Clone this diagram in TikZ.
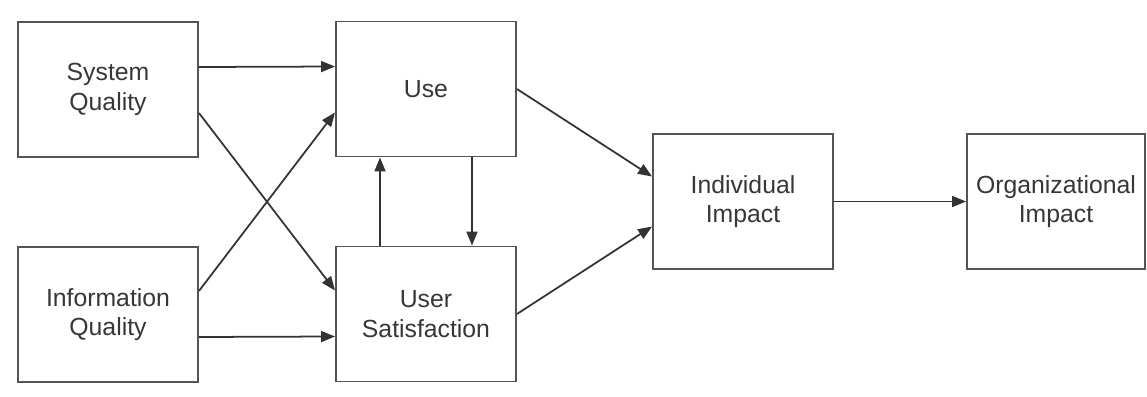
\documentclass[tikz,border=0pt]{standalone}
\usepackage{tikz}
\usepackage{fontspec}
\setmainfont{Liberation Sans}
\usetikzlibrary{arrows.meta,positioning,calc}
\definecolor{boxgray}{RGB}{85,85,85}
\definecolor{textgray}{RGB}{55,55,55}

\begin{document}
\begin{tikzpicture}[x=0.02cm, y=-0.02cm,
    block/.style={draw=boxgray, line width=1.1pt, fill=white, text=textgray,
        minimum width=3.6cm, minimum height=2.7cm, align=center,
        font=\fontsize{14.1}{16.8}\selectfont},
    link/.style={draw=black!80, line width=1pt,
        -{Triangle[length=0.28cm, width=0.22cm]}}]
    \useasboundingbox (0,0) rectangle (1147,396);

    % Quality dimensions
    \node[block] (sysq) at (108,89.5) {System\\Quality};
    \node[block] (infq) at (108,314.5) {Information\\Quality};

    % Use and satisfaction
    \node[block] (use) at (426,89) {Use};
    \node[block] (usat) at (426,314) {User\\Satisfaction};

    % Impacts
    \node[block] (indi) at (743,201.5) {Individual\\Impact};
    \node[block, minimum width=3.56cm] (orgi) at (1056,201.5) {Organizational\\Impact};

    % Connections
    \draw[link] ([yshift=0.45cm]sysq.east) -- ([yshift=0.45cm]use.west);
    \draw[link] ([yshift=-0.47cm]sysq.east) -- ([yshift=0.47cm]usat.west);
    \draw[link] ([yshift=0.47cm]infq.east) -- ([yshift=-0.47cm]use.west);
    \draw[link] ([yshift=-0.45cm]infq.east) -- ([yshift=-0.45cm]usat.west);
    \draw[link] ([xshift=-0.92cm]usat.north) -- ([xshift=-0.92cm]use.south);
    \draw[link] ([xshift=0.92cm]use.south) -- ([xshift=0.92cm]usat.north);
    \draw[link] (use.east) -- ([yshift=0.5cm]indi.west);
    \draw[link] (usat.east) -- ([yshift=-0.5cm]indi.west);
    \draw[link] (indi.east) -- (orgi.west);
\end{tikzpicture}
\end{document}
